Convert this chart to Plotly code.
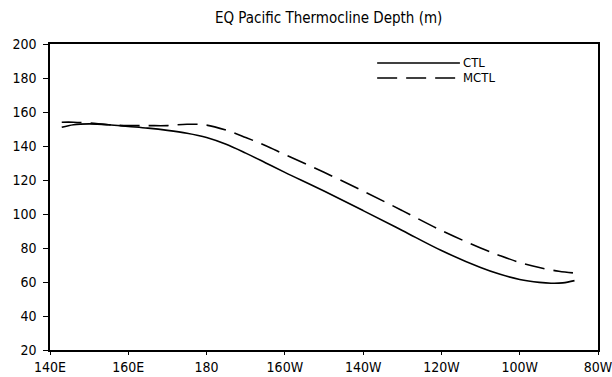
import plotly.graph_objects as go

# longitude in degrees east (280 = 80W)
lon_ctl = [143, 146, 150, 155, 160, 165, 170, 175, 180, 185, 190, 195, 200, 210, 220, 230, 240, 250, 255, 260, 265, 268, 271, 274]
ctl = [151, 152.5, 153, 152.5, 151.5, 150.5, 149.2, 147.5, 145, 141, 135.8, 130.2, 124.5, 113.5, 102, 90.3, 78.5, 68.5, 64.5, 61.5, 59.8, 59.3, 59.5, 60.8]
lon_mctl = [143, 146, 150, 155, 160, 165, 170, 175, 180, 185, 190, 195, 200, 210, 220, 230, 240, 250, 255, 260, 265, 270, 274]
mctl = [154, 154, 153.5, 152.5, 152, 152, 152, 152.8, 152.3, 149.3, 145, 140.3, 135, 124.5, 113.5, 102, 90.3, 80, 75.5, 71.5, 68.5, 66.3, 65.3]

tick_vals = [140, 160, 180, 200, 220, 240, 260, 280]
tick_text = ["140E", "160E", "180", "160W", "140W", "120W", "100W", "80W"]
y_ticks = [20, 40, 60, 80, 100, 120, 140, 160, 180, 200]
legend_names = ["CTL", "MCTL"]

font = "DejaVu Sans Condensed, Liberation Sans Narrow, Arial Narrow, sans-serif"

fig = go.Figure()
fig.add_trace(go.Scatter(x=lon_ctl, y=ctl, mode="lines", line=dict(color="black", width=1.6, shape="spline"), name=legend_names[0], showlegend=False))
fig.add_trace(go.Scatter(x=lon_mctl, y=mctl, mode="lines", line=dict(color="black", width=1.6, dash="20px,9px", shape="spline"), name=legend_names[1], showlegend=False))

# legend drawn manually
fig.add_shape(type="line", xref="paper", yref="paper", x0=0.597, x1=0.748, y0=0.938, y1=0.938, line=dict(color="black", width=1.4))
fig.add_shape(type="line", xref="paper", yref="paper", x0=0.597, x1=0.748, y0=0.889, y1=0.889, line=dict(color="black", width=1.4, dash="20px,9px"))
fig.add_annotation(xref="paper", yref="paper", x=0.75, y=0.938, text=legend_names[0], showarrow=False, xanchor="left", yanchor="middle", font=dict(family=font, size=13, color="black"))
fig.add_annotation(xref="paper", yref="paper", x=0.75, y=0.889, text=legend_names[1], showarrow=False, xanchor="left", yanchor="middle", font=dict(family=font, size=13, color="black"))

fig.update_layout(
    width=612, height=377,
    margin=dict(l=50, r=14, t=44, b=27, autoexpand=False),
    paper_bgcolor="white", plot_bgcolor="white",
    title=dict(text="EQ Pacific Thermocline Depth (m)", x=0.537, xanchor="center", y=0.952, yanchor="middle",
               font=dict(family=font, size=15, color="black")),
    font=dict(family=font, size=13, color="black"),
)
fig.update_xaxes(range=[140, 280], tickvals=tick_vals, ticktext=tick_text, showgrid=False, zeroline=False,
                 showline=True, linecolor="black", linewidth=1.5, mirror=True, ticks="outside", ticklen=3,
                 tickcolor="black", tickfont=dict(family=font, size=14), automargin=False,
                 ticklabeloverflow="allow")
fig.update_yaxes(range=[20, 200], tickvals=y_ticks, showgrid=False, zeroline=False,
                 showline=True, linecolor="black", linewidth=1.5, mirror=True, ticks="outside", ticklen=5,
                 tickcolor="black", tickfont=dict(family=font, size=14), automargin=False, ticklabelstandoff=4)

fig.write_html("out.html", config={"displayModeBar": False},
               post_script="document.body.style.margin='0';document.body.style.padding='0';")
